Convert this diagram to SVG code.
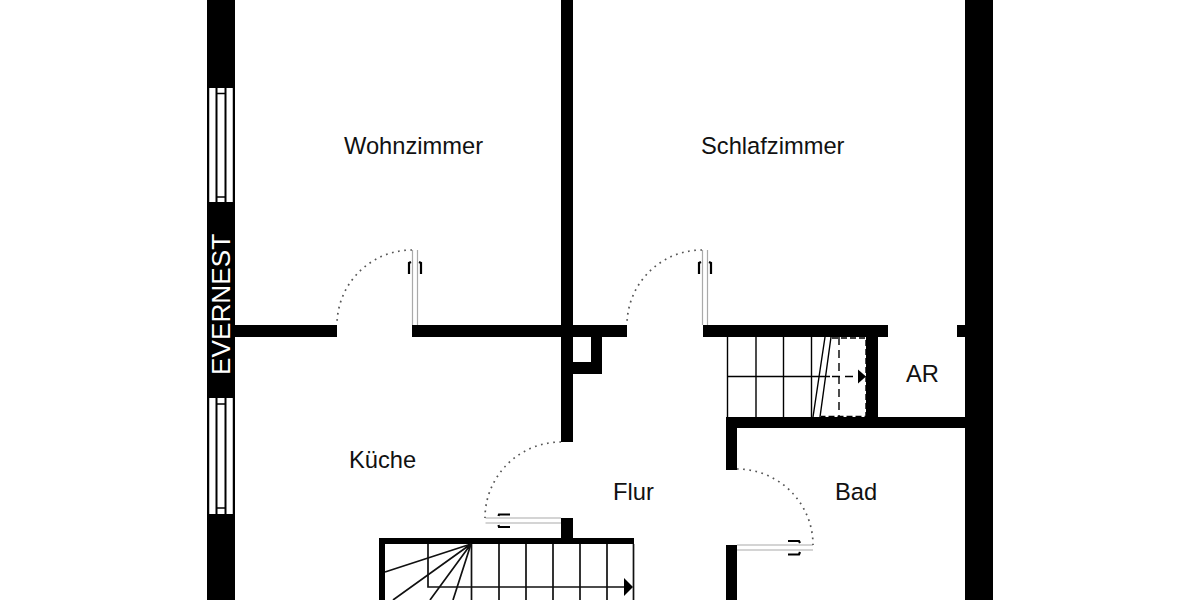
<svg xmlns="http://www.w3.org/2000/svg" width="1200" height="600" viewBox="0 0 1200 600">
<style>
.w{fill:#000}
.l{stroke:#000;stroke-width:1.4;fill:none}
.s{stroke:#111;stroke-width:1.7;fill:none}
.leaf{stroke:#aaa;stroke-width:1.2;fill:none}
.arc{stroke:#555;stroke-width:1.7;stroke-dasharray:1.700 4.500;fill:none}
.h{stroke:#000;stroke-width:2.200;fill:none}
.wp{fill:#fff}
.wo{stroke:#000;stroke-width:1.500;fill:none}
.wi{stroke:#000;stroke-width:2;fill:none}
text{font-family:"Liberation Sans",Arial,sans-serif;font-size:23.7px;fill:#111}
</style>
<rect width="1200" height="600" fill="#fff"/>
<g id="walls">
<rect class="w" x="207" y="0" width="28" height="600"/>
<rect class="w" x="965" y="0" width="28" height="600"/>
<rect class="w" x="235" y="325" width="102" height="12"/>
<rect class="w" x="412" y="325" width="215" height="12"/>
<rect class="w" x="561" y="0" width="12" height="442"/>
<path class="w" d="M573 337H602V374H561V362H591V337Z"/>
<rect class="w" x="703" y="325" width="185" height="12"/>
<rect class="w" x="957" y="325" width="8" height="12"/>
<rect class="w" x="866" y="337" width="12" height="91"/>
<rect class="w" x="726" y="417" width="239" height="11"/>
<rect class="w" x="726" y="417" width="11" height="53"/>
<rect class="w" x="726" y="545" width="11" height="55"/>
<rect class="w" x="561" y="518" width="12" height="24"/>
<rect class="w" x="379" y="538" width="255" height="6"/>
<rect class="w" x="379" y="538" width="6" height="62"/>
</g>
<g id="windows">
<g id="window-top">
<rect class="wp" x="208.500" y="88" width="25" height="114"/>
<path class="wo" d="M208.500 88V202M233.500 88V202"/>
<path class="wi" d="M216.500 88V202M225.500 88V202"/>
<path class="wo" d="M217 93.500H225M217 197H225"/>
</g>
<g id="window-bottom">
<rect class="wp" x="208.500" y="398" width="25" height="116"/>
<path class="wo" d="M208.500 398V514M233.500 398V514"/>
<path class="wi" d="M216.500 398V514M225.500 398V514"/>
<path class="wo" d="M217 404H225M217 508H225"/>
</g>
</g>
<g id="doors">
<g id="door-wohnzimmer">
<path class="leaf" d="M412.500 250V325M417.500 250V325"/>
<path class="arc" d="M412 250A75 75 0 0 0 337 325"/>
<path class="h" d="M409 274V263L411 262M421 274V263L419 262"/>
</g>
<g id="door-schlafzimmer">
<path class="leaf" d="M702.500 250V325M707.500 250V325"/>
<path class="arc" d="M702 250A75 75 0 0 0 627 325"/>
<path class="h" d="M699 274V263L701 262M711 274V263L709 262"/>
</g>
<g id="door-kueche">
<path class="leaf" d="M485.500 518H561M485.500 523H561"/>
<path class="arc" d="M561 442A76 76 0 0 0 485 518"/>
<path class="h" d="M510 514.500H499L498.500 516M510 527H499L498.500 525"/>
</g>
<g id="door-bad">
<path class="leaf" d="M737 545H813M737 550H813"/>
<path class="arc" d="M737 469A76 76 0 0 1 813 545"/>
<path class="h" d="M788 541H799L800 543M788 554.500H799L800 552"/>
</g>
</g>
<g id="stairs-upper">
<path class="l" d="M727.500 337V417M756 337V417M783.500 337V417M811.500 337V417M728 376.500H830"/>
<path class="l" d="M825 337L813 417M831 337L820 417"/>
<path class="l" stroke-dasharray="8 5" d="M839 337V417M832 376.500H858"/>
<path class="l" stroke-dasharray="6 3" d="M832 338H866V416.500H821"/>
<path class="w" d="M858 369.500L866 376.500L858 383.500Z"/>
</g>
<g id="stairs-lower">
<path class="s" d="M428 544V587H625M471.500 544V600M499 544V600M526 544V600M553 544V600M580 544V600M607 544V600M633.500 544V600"/>
<path class="s" d="M471 544L385 572M471 544L393 600M471 544L430 600M471 544L453 600"/>
<path class="w" d="M624 578L633 587L624 596Z"/>
</g>
<g id="labels">
<text x="344" y="154">Wohnzimmer</text>
<text x="701" y="154">Schlafzimmer</text>
<text x="349" y="468">Küche</text>
<text x="613" y="500">Flur</text>
<text x="835" y="500">Bad</text>
<text x="906" y="382">AR</text>
<text transform="translate(230 375) rotate(-90)" style="font-size:26.200px;fill:#fff">EVERNEST</text>
</g>
</svg>
